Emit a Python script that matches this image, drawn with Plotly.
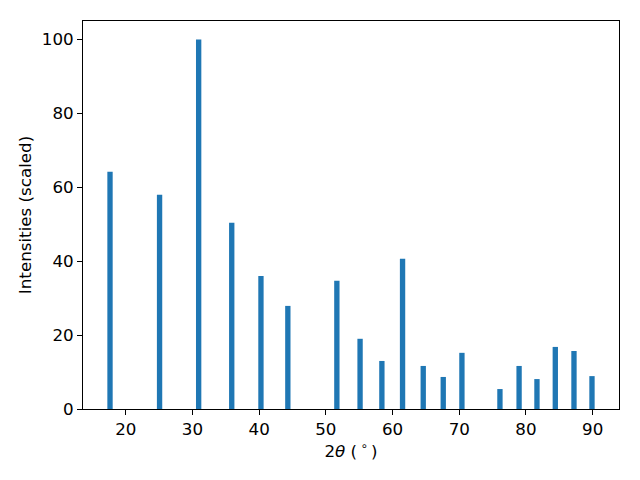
import plotly.graph_objects as go

# peak positions (2theta, degrees) and scaled intensities
dos_theta = [17.64, 25.07, 30.93, 35.89, 40.27, 44.3, 51.65, 55.13, 58.4, 61.5,
             64.6, 67.6, 70.4, 76.1, 78.97, 81.65, 84.4, 87.2, 89.9]
intensidades = [64.2, 58.0, 100.0, 50.4, 36.0, 27.9, 34.7, 19.0, 13.0, 40.65,
                11.65, 8.67, 15.2, 5.4, 11.65, 8.1, 16.8, 15.7, 8.9]

x_ticks = [20, 30, 40, 50, 60, 70, 80, 90]
y_ticks = [0, 20, 40, 60, 80, 100]

fig = go.Figure(data=[
    go.Bar(
        x=dos_theta,
        y=intensidades,
        width=0.8,
        marker=dict(color='#1f77b4', line=dict(width=0))
    )
])

eje = dict(
    showline=True, linecolor='black', linewidth=1, mirror=True,
    ticks='outside', ticklen=5, tickwidth=1, tickcolor='black',
    showgrid=False, zeroline=False,
    tickfont=dict(size=16.7, color='black'),
)

fig.update_layout(
    width=640, height=480,
    margin=dict(l=75, r=29, t=13, b=79),
    plot_bgcolor='white', paper_bgcolor='white',
    font=dict(family='DejaVu Sans', size=16.7, color='black'),
    showlegend=False,
    xaxis=dict(eje, range=[13.59, 93.95], tickvals=x_ticks,
               title=dict(text='2<i>θ</i> (\u2009<sup>∘</sup>\u2009)', font=dict(size=16.7), standoff=6)),
    yaxis=dict(eje, range=[0, 105], tickvals=y_ticks,
               title=dict(text='Intensities (scaled)', font=dict(size=16.7), standoff=5)),
)

fig.write_html("out.html")
